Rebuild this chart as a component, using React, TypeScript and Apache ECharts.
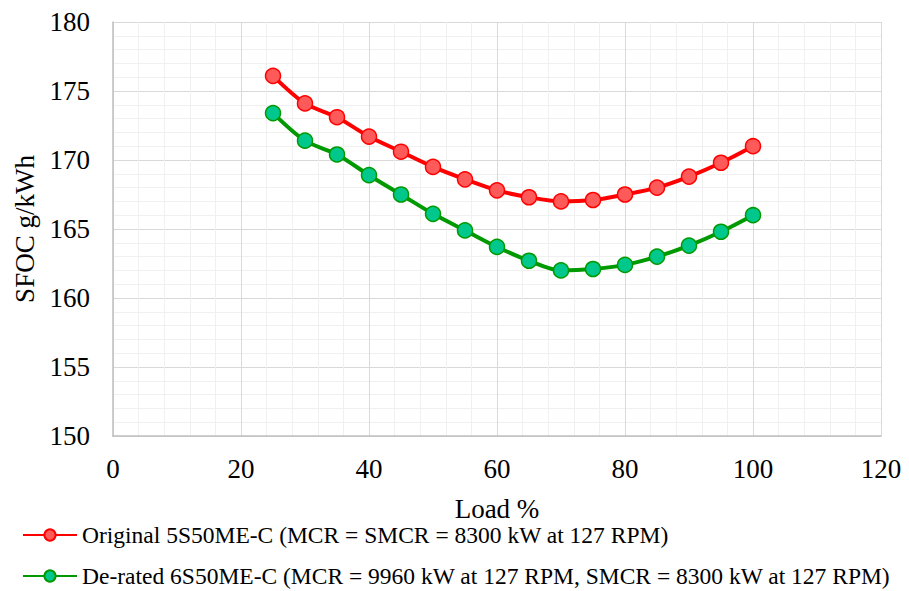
import React, { useEffect, useRef } from "react";
import * as echarts from "echarts";

const loads = [25, 30, 35, 40, 45, 50, 55, 60, 65, 70, 75, 80, 85, 90, 95, 100];
const originalSfoc = [176.1, 174.1, 173.1, 171.7, 170.6, 169.5, 168.6, 167.8, 167.3, 167.0, 167.1, 167.5, 168.0, 168.8, 169.8, 171.0];
const deratedSfoc = [173.4, 171.4, 170.4, 168.9, 167.5, 166.1, 164.9, 163.7, 162.7, 162.0, 162.1, 162.4, 163.0, 163.8, 164.8, 166.0];
const seriesNames = [
  "Original 5S50ME-C (MCR = SMCR = 8300 kW at 127 RPM)",
  "De-rated 6S50ME-C (MCR = 9960 kW at 127 RPM, SMCR = 8300 kW at 127 RPM)",
];

const FONT = "Liberation Serif";

export default function App() {
  const ref = useRef<HTMLDivElement>(null);
  useEffect(() => {
    if (!ref.current) return;
    const chart = echarts.init(ref.current, null, { renderer: "svg" });
    const mk = (vals: number[]) => loads.map((l, i) => [l, vals[i]]);
    const legendBase = {
      orient: "horizontal",
      left: 17,
      padding: 5,
      itemWidth: 54,
      itemHeight: 14,
      itemGap: 2,
      textStyle: { fontFamily: FONT, fontSize: 23.5, color: "#000" },
    };
    chart.setOption({
      animation: false,
      textStyle: { fontFamily: FONT },
      grid: { left: 113, right: 28, top: 22, bottom: 155 },
      legend: [
        { ...legendBase, top: 518, data: [seriesNames[0]] },
        { ...legendBase, top: 559, data: [seriesNames[1]] },
      ],
      xAxis: {
        type: "value",
        min: 0,
        max: 120,
        interval: 20,
        name: "Load %",
        nameLocation: "middle",
        nameGap: 59,
        nameTextStyle: { fontFamily: FONT, fontSize: 27, color: "#000" },
        axisLine: { show: true, lineStyle: { color: "#bfbfbf", width: 1.5 } },
        axisTick: { show: false },
        axisLabel: { fontFamily: FONT, fontSize: 27, color: "#000", margin: 19 },
        splitLine: { show: true, lineStyle: { color: "#d9d9d9", width: 1 } },
        minorTick: { show: false, splitNumber: 5 },
        minorSplitLine: { show: true, lineStyle: { color: "#f0f0f0", width: 1 } },
      },
      yAxis: {
        type: "value",
        min: 150,
        max: 180,
        interval: 5,
        name: "SFOC g/kWh",
        nameLocation: "middle",
        nameGap: 75,
        nameTextStyle: { fontFamily: FONT, fontSize: 27, color: "#000" },
        axisLine: { show: true, lineStyle: { color: "#bfbfbf", width: 1.5 } },
        axisTick: { show: false },
        axisLabel: { fontFamily: FONT, fontSize: 27, color: "#000", margin: 23 },
        splitLine: { show: true, lineStyle: { color: "#d9d9d9", width: 1 } },
        minorTick: { show: false, splitNumber: 5 },
        minorSplitLine: { show: true, lineStyle: { color: "#f0f0f0", width: 1 } },
      },
      series: [
        {
          name: seriesNames[0],
          type: "line",
          data: mk(originalSfoc),
          smooth: 0.3,
          symbol: "circle",
          symbolSize: 15,
          lineStyle: { color: "#ff0000", width: 4 },
          itemStyle: { color: "#ff5a5a", borderColor: "#ff0000", borderWidth: 1.5 },
          z: 3,
        },
        {
          name: seriesNames[1],
          type: "line",
          data: mk(deratedSfoc),
          smooth: 0.3,
          symbol: "circle",
          symbolSize: 15,
          lineStyle: { color: "#009900", width: 4 },
          itemStyle: { color: "#00c88c", borderColor: "#009900", borderWidth: 1.5 },
          z: 3,
        },
      ],
    });
    return () => chart.dispose();
  }, []);
  return <div ref={ref} style={{ width: 909, height: 591, position: "absolute", left: 0, top: 0 }} />;
}
